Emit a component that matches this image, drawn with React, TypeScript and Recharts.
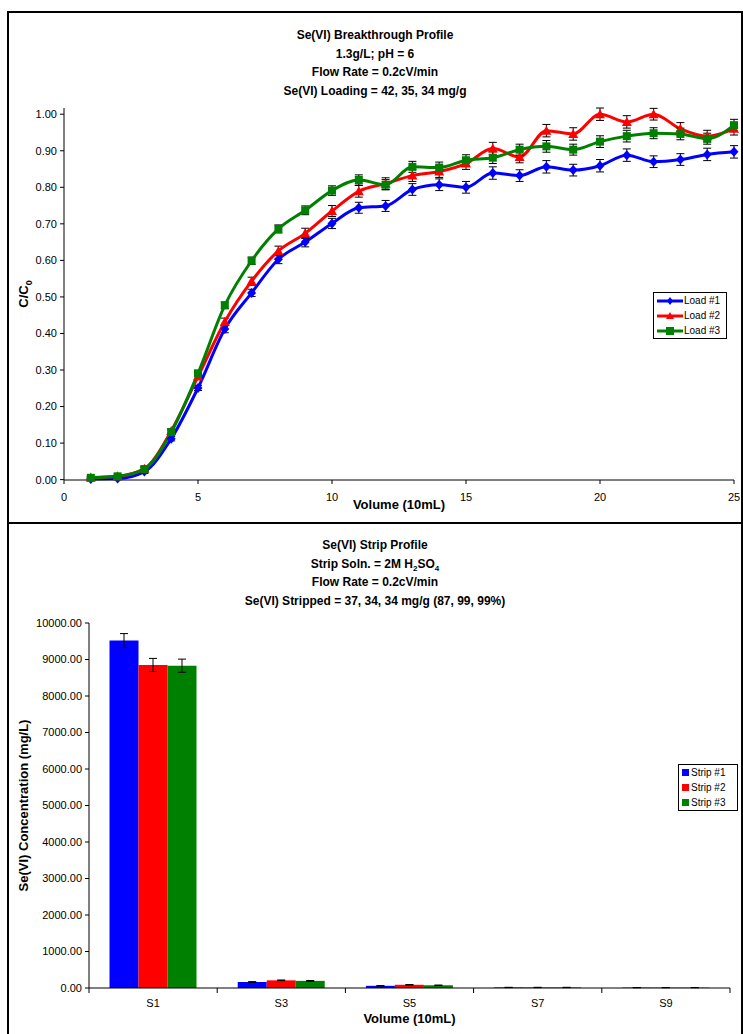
import { LineChart, Line, XAxis, YAxis, ErrorBar, Legend, BarChart, Bar } from "recharts";

// breakthrough profile (top chart)
const volume = [1, 2, 3, 4, 5, 6, 7, 8, 9, 10, 11, 12, 13, 14, 15, 16, 17, 18, 19, 20, 21, 22, 23, 24, 25];
const load1 = [0.002, 0.003, 0.022, 0.112, 0.251, 0.412, 0.511, 0.603, 0.65, 0.701, 0.744, 0.749, 0.794, 0.807, 0.8, 0.839, 0.832, 0.856, 0.847, 0.859, 0.888, 0.87, 0.876, 0.89, 0.897];
const load2 = [0.006, 0.009, 0.03, 0.133, 0.282, 0.432, 0.543, 0.626, 0.674, 0.735, 0.789, 0.81, 0.832, 0.843, 0.865, 0.906, 0.883, 0.955, 0.946, 1.0, 0.979, 1.0, 0.96, 0.94, 0.96];
const load3 = [0.005, 0.009, 0.029, 0.13, 0.291, 0.477, 0.599, 0.686, 0.737, 0.791, 0.82, 0.807, 0.856, 0.854, 0.874, 0.881, 0.903, 0.912, 0.903, 0.925, 0.94, 0.948, 0.946, 0.933, 0.97];
const loadErr1 = [0.003, 0.003, 0.005, 0.006, 0.007, 0.01, 0.01, 0.012, 0.013, 0.014, 0.015, 0.015, 0.016, 0.016, 0.016, 0.017, 0.016, 0.017, 0.016, 0.017, 0.017, 0.016, 0.016, 0.017, 0.017];
const loadErr2 = [0.003, 0.003, 0.005, 0.006, 0.007, 0.01, 0.011, 0.013, 0.014, 0.015, 0.016, 0.016, 0.016, 0.016, 0.016, 0.017, 0.016, 0.017, 0.017, 0.017, 0.017, 0.016, 0.017, 0.016, 0.017];
const loadErr3 = [0.003, 0.003, 0.005, 0.006, 0.007, 0.009, 0.01, 0.011, 0.012, 0.013, 0.014, 0.014, 0.015, 0.015, 0.015, 0.016, 0.015, 0.016, 0.015, 0.016, 0.016, 0.015, 0.016, 0.015, 0.016];
const loadTicksY = [0, 0.1, 0.2, 0.3, 0.4, 0.5, 0.6, 0.7, 0.8, 0.9, 1.0];
const loadTicksX = [0, 5, 10, 15, 20, 25];

// strip profile (bottom chart)
const stripCategories = ["S1", "S3", "S5", "S7", "S9"];
const strip1 = [9520, 165, 60, 15, 10];
const strip2 = [8850, 210, 88, 15, 10];
const strip3 = [8830, 195, 75, 15, 10];
const stripErr1 = [190, 10, 6, 4, 3];
const stripErr2 = [180, 10, 6, 4, 3];
const stripErr3 = [180, 10, 6, 4, 3];
const stripTicksY = [0, 1000, 2000, 3000, 4000, 5000, 6000, 7000, 8000, 9000, 10000];

const FONT = "'Liberation Sans', Arial, sans-serif";
const BLUE = "#0000ff";
const RED = "#ff0000";
const GREEN = "#008000";

const loadData = volume.map((v, i) => ({
  v,
  load1: load1[i],
  load2: load2[i],
  load3: load3[i],
  e1: loadErr1[i],
  e2: loadErr2[i],
  e3: loadErr3[i],
}));

const stripData = stripCategories.map((name, i) => ({
  name,
  strip1: strip1[i],
  strip2: strip2[i],
  strip3: strip3[i],
  e1: stripErr1[i],
  e2: stripErr2[i],
  e3: stripErr3[i],
}));

// bottom plot geometry (used for the between-category tick marks)
const BAR_LEFT = 89;
const BAR_RIGHT = 730;
const BAND = (BAR_RIGHT - BAR_LEFT) / stripCategories.length;

const diamond = (props: any) => {
  const { cx, cy, index } = props;
  return <polygon key={`dm-${index}`} points={`${cx},${cy - 5} ${cx + 4.5},${cy} ${cx},${cy + 5} ${cx - 4.5},${cy}`} fill={BLUE} />;
};
const triangle = (props: any) => {
  const { cx, cy, index } = props;
  return <polygon key={`tr-${index}`} points={`${cx},${cy - 5} ${cx + 5},${cy + 4} ${cx - 5},${cy + 4}`} fill={RED} />;
};
const square = (props: any) => {
  const { cx, cy, index } = props;
  return <rect key={`sq-${index}`} x={cx - 4} y={cy - 4} width={8} height={8} fill={GREEN} />;
};

const loadLegend = () => {
  const items = [
    { name: "Load #1", color: BLUE, shape: "d" },
    { name: "Load #2", color: RED, shape: "t" },
    { name: "Load #3", color: GREEN, shape: "s" },
  ];
  return (
    <div style={{ border: "1px solid #000", background: "#fff", padding: "0 3px", fontFamily: FONT, fontSize: 10, lineHeight: "15px", width: 66 }}>
      {items.map((it) => (
        <div key={it.name} style={{ display: "flex", alignItems: "center" }}>
          <svg width={26} height={10}>
            <line x1={0} y1={5} x2={26} y2={5} stroke={it.color} strokeWidth={3} />
            {it.shape === "d" && <polygon points="13,1 16,5 13,9 10,5" fill={it.color} />}
            {it.shape === "t" && <polygon points="13,1 17,8 9,8" fill={it.color} />}
            {it.shape === "s" && <rect x={9} y={1} width={8} height={8} fill={it.color} />}
          </svg>
          <span style={{ marginLeft: 1 }}>{it.name}</span>
        </div>
      ))}
    </div>
  );
};

const stripLegend = () => {
  const items = [
    { name: "Strip #1", color: BLUE },
    { name: "Strip #2", color: RED },
    { name: "Strip #3", color: GREEN },
  ];
  return (
    <div style={{ border: "1px solid #000", background: "#fff", padding: "0 3px", fontFamily: FONT, fontSize: 10, lineHeight: "15px", width: 52 }}>
      {items.map((it) => (
        <div key={it.name} style={{ display: "flex", alignItems: "center" }}>
          <span style={{ display: "inline-block", width: 7, height: 7, background: it.color, marginRight: 2 }} />
          <span>{it.name}</span>
        </div>
      ))}
    </div>
  );
};

const stripTick = (props: any) => {
  const { x, y, payload, index } = props;
  const top = y - 8;
  return (
    <g>
      <line x1={x + BAND / 2} y1={top} x2={x + BAND / 2} y2={top + 5} stroke="#000" />
      {index === 0 && <line x1={x - BAND / 2} y1={top} x2={x - BAND / 2} y2={top + 5} stroke="#000" />}
      <text x={x} y={y + 11} textAnchor="middle" fontSize={11} fontFamily={FONT} fill="#000">
        {payload.value}
      </text>
    </g>
  );
};

const titleStyle = (top: number): any => ({
  position: "absolute",
  left: 7,
  top,
  width: 736,
  textAlign: "center",
  fontFamily: FONT,
  fontWeight: "bold",
  fontSize: 12,
  lineHeight: "18.5px",
  color: "#000",
});

const subStyle: any = { fontSize: 8, position: "relative", top: 3, lineHeight: 0 };

export default function App() {
  return (
    <div style={{ position: "absolute", left: 0, top: 0, width: 743, height: 1034, background: "#fff", overflow: "hidden" }}>
      {/* top chart */}
      <div style={{ position: "absolute", left: 0, top: 0 }}>
        <LineChart width={743} height={522} data={loadData} margin={{ top: 108, right: 9, left: 0, bottom: 12 }}>
          <XAxis
            dataKey="v"
            type="number"
            domain={[0, 25]}
            ticks={loadTicksX}
            stroke="#000"
            tickSize={4}
            tickMargin={9}
            height={30}
            tick={{ fontSize: 11, fontFamily: FONT, fill: "#000" }}
            label={({ viewBox }: any) => (
              <text x={viewBox.x + viewBox.width / 2} y={viewBox.y + 29} textAnchor="middle" fontSize={13} fontWeight="bold" fontFamily={FONT} fill="#000">
                Volume (10mL)
              </text>
            )}
          />
          <YAxis
            type="number"
            domain={[0, 1]}
            ticks={loadTicksY}
            width={64}
            stroke="#000"
            tickSize={4}
            tickMargin={3}
            tickFormatter={(t: number) => t.toFixed(2)}
            tick={{ fontSize: 11, fontFamily: FONT, fill: "#000" }}
            label={({ viewBox }: any) => (
              <text
                transform={`translate(28, ${viewBox.y + viewBox.height / 2}) rotate(-90)`}
                textAnchor="middle"
                fontSize={13}
                fontWeight="bold"
                fontFamily={FONT}
                fill="#000"
              >
                C/C<tspan fontSize={9} dy={4}>0</tspan>
              </text>
            )}
          />
          <Legend layout="vertical" align="center" verticalAlign="middle" wrapperStyle={{ left: 653, top: 292, width: 74 }} content={loadLegend} />
          <Line type="monotone" dataKey="load1" name="Load #1" stroke={BLUE} strokeWidth={3} dot={diamond} activeDot={false} isAnimationActive={false}>
            <ErrorBar dataKey="e1" direction="y" width={4} stroke="#000" strokeWidth={1} />
          </Line>
          <Line type="monotone" dataKey="load2" name="Load #2" stroke={RED} strokeWidth={3} dot={triangle} activeDot={false} isAnimationActive={false}>
            <ErrorBar dataKey="e2" direction="y" width={4} stroke="#000" strokeWidth={1} />
          </Line>
          <Line type="monotone" dataKey="load3" name="Load #3" stroke={GREEN} strokeWidth={3} dot={square} activeDot={false} isAnimationActive={false}>
            <ErrorBar dataKey="e3" direction="y" width={4} stroke="#000" strokeWidth={1} />
          </Line>
        </LineChart>
      </div>
      <div style={titleStyle(26)}>
        <div>Se(VI) Breakthrough Profile</div>
        <div>1.3g/L; pH = 6</div>
        <div>Flow Rate = 0.2cV/min</div>
        <div>Se(VI) Loading = 42, 35, 34 mg/g</div>
      </div>

      {/* bottom chart */}
      <div style={{ position: "absolute", left: 0, top: 522 }}>
        <BarChart width={743} height={512} data={stripData} margin={{ top: 101, right: 13, left: 0, bottom: 16 }} barGap={0} barCategoryGap="16%">
          <XAxis
            dataKey="name"
            stroke="#000"
            tickLine={false}
            height={30}
            tick={stripTick}
            label={({ viewBox }: any) => (
              <text x={viewBox.x + viewBox.width / 2} y={viewBox.y + 35} textAnchor="middle" fontSize={13} fontWeight="bold" fontFamily={FONT} fill="#000">
                Volume (10mL)
              </text>
            )}
          />
          <YAxis
            type="number"
            domain={[0, 10000]}
            ticks={stripTicksY}
            width={89}
            stroke="#000"
            tickSize={4}
            tickMargin={3}
            tickFormatter={(t: number) => t.toFixed(2)}
            tick={{ fontSize: 11, fontFamily: FONT, fill: "#000" }}
            label={({ viewBox }: any) => (
              <text
                transform={`translate(28, ${viewBox.y + viewBox.height / 2}) rotate(-90)`}
                textAnchor="middle"
                fontSize={13}
                fontWeight="bold"
                fontFamily={FONT}
                fill="#000"
              >
                Se(VI) Concentration (mg/L)
              </text>
            )}
          />
          <Legend layout="vertical" align="center" verticalAlign="middle" wrapperStyle={{ left: 678, top: 242, width: 60 }} content={stripLegend} />
          <Bar dataKey="strip1" name="Strip #1" fill={BLUE} isAnimationActive={false}>
            <ErrorBar dataKey="e1" direction="y" width={4} stroke="#000" strokeWidth={1} />
          </Bar>
          <Bar dataKey="strip2" name="Strip #2" fill={RED} isAnimationActive={false}>
            <ErrorBar dataKey="e2" direction="y" width={4} stroke="#000" strokeWidth={1} />
          </Bar>
          <Bar dataKey="strip3" name="Strip #3" fill={GREEN} isAnimationActive={false}>
            <ErrorBar dataKey="e3" direction="y" width={4} stroke="#000" strokeWidth={1} />
          </Bar>
        </BarChart>
      </div>
      <div style={titleStyle(536)}>
        <div>Se(VI) Strip Profile</div>
        <div>
          Strip Soln. = 2M H<span style={subStyle}>2</span>SO<span style={subStyle}>4</span>
        </div>
        <div>Flow Rate = 0.2cV/min</div>
        <div>Se(VI) Stripped = 37, 34, 34 mg/g (87, 99, 99%)</div>
      </div>

      {/* chart borders */}
      <div style={{ position: "absolute", left: 7, top: 11, width: 736, height: 513, border: "2px solid #000", boxSizing: "border-box", pointerEvents: "none" }} />
      <div style={{ position: "absolute", left: 7, top: 522, width: 736, height: 530, border: "2px solid #000", boxSizing: "border-box", pointerEvents: "none" }} />
    </div>
  );
}
